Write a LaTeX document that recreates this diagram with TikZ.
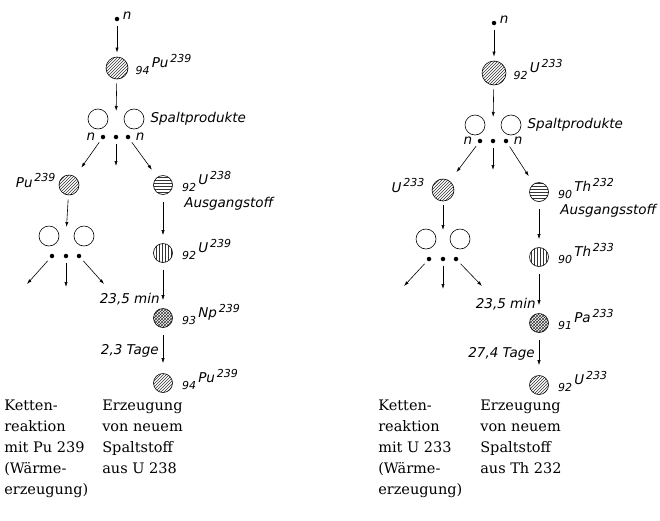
\documentclass[tikz,border=0pt]{standalone}
\usepackage{fontspec}
\usepackage{tikz}
\usetikzlibrary{positioning, patterns, arrows.meta}
\newfontfamily\labfont{DejaVu Sans}
\newfontfamily\txtfont{DejaVu Serif}

\newcommand{\dig}{\fontsize{11}{12}\selectfont}
\newcommand{\iso}[3]{{\dig #1}\,\raisebox{7pt}{#2}\raisebox{12pt}{\dig\,#3}}

\begin{document}
\begin{tikzpicture}[x=1pt, y=1pt, line width=.6pt,
    ball/.style={circle, draw, inner sep=0pt, minimum size=19pt, pattern color=black!80},
    fuel/.style={ball, minimum size=22pt},
    frag/.style={circle, draw, inner sep=0pt, minimum size=20pt},
    neutron/.style={circle, fill, inner sep=0pt, minimum size=4.5pt},
    lab/.style={font=\labfont\itshape\fontsize{13.5}{15}\selectfont, inner sep=0pt},
    txt/.style={font=\txtfont\fontsize{14.5}{21}\selectfont, align=left, anchor=north west, inner sep=0pt},
    arr/.style={-{Latex[length=5pt, width=3.2pt]}, shorten <=4pt, shorten >=4pt}]
    \useasboundingbox (0,0) rectangle (660,-520);

    % left: Pu 239
    \node[neutron] (n0) at (117,-19) {};
    \node[lab, anchor=west] (n0l) at ([xshift=3pt, yshift=3pt]n0.east) {n};
    \node[fuel, pattern=north east lines] (pu)[below of=n0, node distance=49pt] {};
    \node[lab, anchor=base west] (pul) at ([xshift=7pt, yshift=-6pt]pu.east) {\iso{94}{Pu}{239}};
    \coordinate (hit) at (116,-119);
    \node[frag] (sp1)[left of=hit, node distance=18pt]  {};
    \node[frag] (sp2)[right of=hit, node distance=18pt] {};
    \node[lab, right=6pt of sp2] (spl) {Spaltprodukte};
    \node[neutron] (d2) at (116,-137) {};
    \node[neutron] (d1)[left of=d2, node distance=13pt]  {};
    \node[neutron] (d3)[right of=d2, node distance=12pt] {};
    \node[lab, left=5pt of d1]  (d1l) {n};
    \node[lab, right=5pt of d3] (d3l) {n};
    \node[fuel, minimum size=20pt, pattern=north east lines] (pua) at (69,-185) {};
    \node[lab, anchor=base east] (pual) at ([xshift=-3pt, yshift=-2pt]pua.west) {Pu\raisebox{6pt}{\dig\,239}};
    \node[ball, pattern=horizontal lines] (u238) at (163,-185) {};
    \node[lab, anchor=base west] (u238l) at ([xshift=9pt, yshift=-6pt]u238.east) {\iso{92}{U}{238}};
    \node[lab, anchor=north west] (ausg) at (184,-197) {Ausgangstoff};
    \coordinate (hit2) at (66,-236);
    \node[frag] (sp3)[left of=hit2, node distance=17pt]  {};
    \node[frag] (sp4)[right of=hit2, node distance=18pt] {};
    \node[neutron] (d5) at (66,-256) {};
    \node[neutron] (d4)[left of=d5, node distance=14pt]  {};
    \node[neutron] (d6)[right of=d5, node distance=13pt] {};
    \coordinate (e4) at (27,-284);
    \coordinate (e5) at (66,-287);
    \coordinate (e6) at (104,-284);
    \node[ball, pattern=vertical lines] (u239)[below of=u238, node distance=68pt] {};
    \node[lab, anchor=base west] (u239l) at ([xshift=9pt, yshift=-6pt]u239.east) {\iso{92}{U}{239}};
    \node[ball, pattern=crosshatch] (np)[below of=u239, node distance=65pt] {};
    \node[lab, anchor=base west] (npl) at ([xshift=9pt, yshift=-6pt]np.east) {\iso{93}{Np}{239}};
    \node[ball, pattern=north east lines] (pub)[below of=np, node distance=65pt] {};
    \node[lab, anchor=base west] (publ) at ([xshift=9pt, yshift=-6pt]pub.east) {\iso{94}{Pu}{239}};
    \draw[arr] (n0) -- (pu);
    \draw[arr, shorten >=8pt] (pu) -- (hit);
    \draw[arr, shorten >=11pt] (d1) -- (pua);
    \draw[arr] (d2) -- ++(0,-33);
    \draw[arr, shorten >=9pt] (d3) -- (u238);
    \draw[arr, shorten >=9pt] (pua) -- (hit2);
    \draw[arr, shorten >=0pt] (d4) -- (e4);
    \draw[arr, shorten >=0pt] (d5) -- (e5);
    \draw[arr, shorten >=0pt] (d6) -- (e6);
    \draw[arr, shorten <=7pt, shorten >=8pt] (u238) -- (u239);
    \draw[arr, shorten <=7pt, shorten >=8pt] (u239) -- node[lab, pos=.8, left=3pt] (t1) {23,5 min} (np);
    \draw[arr, shorten <=7pt, shorten >=10pt] (np) -- node[lab, left=4pt] (t2) {2,3 Tage} (pub);
    \node[txt] (k1) at (4,-400) {Ketten-\\reaktion\\mit Pu 239\\(Wärme-\\erzeugung)};
    \node[txt] (k2) at (102,-400) {Erzeugung\\von neuem\\Spaltstoff\\aus U 238};

    % right: U 233
    \node[neutron] (m0) at (494,-23) {};
    \node[lab, anchor=west] (m0l) at ([xshift=3pt, yshift=3pt]m0.east) {n};
    \node[fuel, minimum size=24pt, pattern=north east lines] (u233)[below of=m0, node distance=50pt] {};
    \node[lab, anchor=base west] (u233l) at ([xshift=7pt, yshift=-6pt]u233.east) {\iso{92}{U}{233}};
    \coordinate (rhit) at (493,-125);
    \node[frag] (sq1)[left of=rhit, node distance=18pt]  {};
    \node[frag] (sq2)[right of=rhit, node distance=18pt] {};
    \node[lab, right=6pt of sq2] (sql) {Spaltprodukte};
    \node[neutron] (f2) at (493,-141) {};
    \node[neutron] (f1)[left of=f2, node distance=13pt]  {};
    \node[neutron] (f3)[right of=f2, node distance=13pt] {};
    \node[lab, left=5pt of f1]  (f1l) {n};
    \node[lab, right=5pt of f3] (f3l) {n};
    \node[fuel, pattern=north east lines] (u233a) at (443,-190) {};
    \node[lab, anchor=base east] (u233al) at ([xshift=-7pt, yshift=-2pt]u233a.west) {U\raisebox{6pt}{\dig\,233}};
    \node[ball, pattern=horizontal lines] (th232) at (539,-192) {};
    \node[lab, anchor=base west] (th232l) at ([xshift=9pt, yshift=-6pt]th232.east) {\iso{90}{Th}{232}};
    \node[lab, anchor=north west] (rausg) at (560,-204) {Ausgangsstoff};
    \coordinate (rhit2) at (443,-239);
    \node[frag] (sq3)[left of=rhit2, node distance=17pt]  {};
    \node[frag] (sq4)[right of=rhit2, node distance=17pt] {};
    \node[neutron] (f5) at (443,-259) {};
    \node[neutron] (f4)[left of=f5, node distance=14pt]  {};
    \node[neutron] (f6)[right of=f5, node distance=13pt] {};
    \coordinate (g4) at (404,-286);
    \coordinate (g5) at (443,-289);
    \coordinate (g6) at (482,-286);
    \node[ball, pattern=vertical lines] (th233)[below of=th232, node distance=65pt] {};
    \node[lab, anchor=base west] (th233l) at ([xshift=9pt, yshift=-6pt]th233.east) {\iso{90}{Th}{233}};
    \node[ball, pattern=crosshatch] (pa)[below of=th233, node distance=66pt] {};
    \node[lab, anchor=base west] (pal) at ([xshift=9pt, yshift=-6pt]pa.east) {\iso{91}{Pa}{233}};
    \node[ball, pattern=north east lines] (u233b)[below of=pa, node distance=62pt] {};
    \node[lab, anchor=base west] (u233bl) at ([xshift=9pt, yshift=-6pt]u233b.east) {\iso{92}{U}{233}};
    \draw[arr] (m0) -- (u233);
    \draw[arr, shorten >=8pt] (u233) -- (rhit);
    \draw[arr, shorten >=11pt] (f1) -- (u233a);
    \draw[arr] (f2) -- ++(0,-33);
    \draw[arr, shorten >=9pt] (f3) -- (th232);
    \draw[arr, shorten >=9pt] (u233a) -- (rhit2);
    \draw[arr, shorten >=0pt] (f4) -- (g4);
    \draw[arr, shorten >=0pt] (f5) -- (g5);
    \draw[arr, shorten >=0pt] (f6) -- (g6);
    \draw[arr, shorten <=7pt, shorten >=8pt] (th232) -- (th233);
    \draw[arr, shorten <=7pt, shorten >=8pt] (th233) -- node[lab, pos=.8, left=3pt] (t3) {23,5 min} (pa);
    \draw[arr, shorten <=7pt, shorten >=10pt] (pa) -- node[lab, left=4pt] (t4) {27,4 Tage} (u233b);
    \node[txt] (k3) at (378,-400) {Ketten-\\reaktion\\mit U 233\\(Wärme-\\erzeugung)};
    \node[txt] (k4) at (480,-400) {Erzeugung\\von neuem\\Spaltstoff\\aus Th 232};
\end{tikzpicture}
\end{document}
